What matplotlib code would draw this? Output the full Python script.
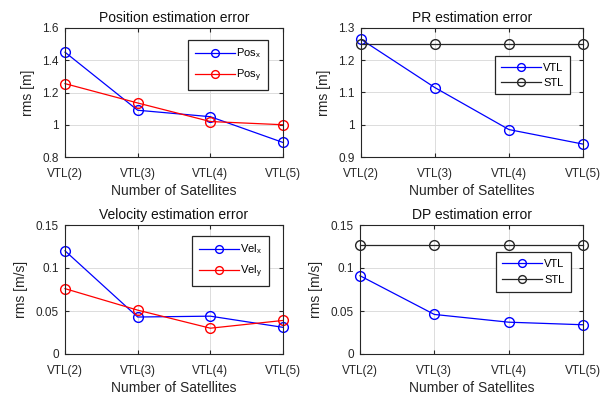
import numpy as np
import matplotlib.pyplot as plt

plt.rcParams['font.family'] = ['Liberation Sans', 'DejaVu Sans']

labels = ['VTL(2)', 'VTL(3)', 'VTL(4)', 'VTL(5)']
pos_x = [1.45, 1.09, 1.05, 0.89]
pos_y = [1.255, 1.135, 1.02, 1.0]
pr_vtl = [1.265, 1.115, 0.985, 0.94]
pr_stl = [1.25, 1.25, 1.25, 1.25]
vel_x = [0.12, 0.043, 0.044, 0.031]
vel_y = [0.076, 0.051, 0.030, 0.039]
dp_vtl = [0.091, 0.046, 0.037, 0.034]
dp_stl = [0.127, 0.127, 0.127, 0.127]

BLUE = '#0000ff'
RED = '#ff0000'
DARK = '#262626'

W, H = 603, 398
fig = plt.figure(figsize=(W / 100, H / 100), dpi=100)


def make_axes(l, r, t, b):
    return fig.add_axes([l / W, 1 - b / H, (r - l) / W, (b - t) / H])


def style(ax, title, ylabel, ylim, yticks, yticklabels):
    ax.set_xlim(0, 3)
    ax.set_xticks(range(4))
    ax.set_xticklabels(labels)
    ax.set_ylim(*ylim)
    ax.set_yticks(yticks)
    ax.set_yticklabels(yticklabels)
    ax.grid(True, color='#dcdcdc', linewidth=0.7)
    ax.set_axisbelow(True)
    ax.tick_params(direction='in', labelsize=8.5, colors=DARK, length=3,
                   top=True, right=True)
    for s in ax.spines.values():
        s.set_color(DARK)
        s.set_linewidth(0.8)
    ax.set_title(title, fontsize=10, color='#111111', pad=4)
    ax.set_ylabel(ylabel, fontsize=10, color=DARK, labelpad=5.5)
    ax.set_xlabel('Number of Satellites', fontsize=10, color=DARK, labelpad=3)
    ax.tick_params(axis='x', pad=8)
    ax.tick_params(axis='y', pad=4.5)


def legend(ax, right, top, spacing):
    leg = ax.legend(loc='upper right', bbox_to_anchor=(right / W, 1 - top / H),
                    bbox_transform=fig.transFigure, borderaxespad=0,
                    fontsize=8, frameon=True, fancybox=False, framealpha=1,
                    handlelength=3.6, labelspacing=spacing, markerscale=0.8,
                    handletextpad=0.15, borderpad=0.6)
    leg.get_frame().set_edgecolor(DARK)
    leg.get_frame().set_linewidth(0.9)


x = np.arange(4)
mk = dict(marker='o', markersize=7, markerfacecolor='none', linewidth=0.9,
          clip_on=False)

ax1 = make_axes(65, 283, 28, 157)
ax1.plot(x, pos_x, color=BLUE, label='Pos$_\\mathregular{x}$', **mk)
ax1.plot(x, pos_y, color=RED, label='Pos$_\\mathregular{y}$', **mk)
style(ax1, 'Position estimation error', 'rms [m]', (0.8, 1.6),
      [0.8, 1.0, 1.2, 1.4, 1.6], ['0.8', '1', '1.2', '1.4', '1.6'])
legend(ax1, 268, 40, 0.6)

ax2 = make_axes(361, 583, 28, 157)
ax2.plot(x, pr_vtl, color=BLUE, label='VTL', **mk)
ax2.plot(x, pr_stl, color=DARK, label='STL', **mk)
style(ax2, 'PR estimation error', 'rms [m]', (0.9, 1.3),
      [0.9, 1.0, 1.1, 1.2, 1.3], ['0.9', '1', '1.1', '1.2', '1.3'])
legend(ax2, 570, 56, 0.45)

ax3 = make_axes(65, 283, 225, 354)
ax3.plot(x, vel_x, color=BLUE, label='Vel$_\\mathregular{x}$', **mk)
ax3.plot(x, vel_y, color=RED, label='Vel$_\\mathregular{y}$', **mk)
style(ax3, 'Velocity estimation error', 'rms [m/s]', (0, 0.15),
      [0, 0.05, 0.1, 0.15], ['0', '0.05', '0.1', '0.15'])
legend(ax3, 269, 236, 0.6)

ax4 = make_axes(360, 583, 225, 354)
ax4.plot(x, dp_vtl, color=BLUE, label='VTL', **mk)
ax4.plot(x, dp_stl, color=DARK, label='STL', **mk)
style(ax4, 'DP estimation error', 'rms [m/s]', (0, 0.15),
      [0, 0.05, 0.1, 0.15], ['0', '0.05', '0.1', '0.15'])
legend(ax4, 571, 252, 0.6)

fig.savefig('out.png', dpi=100)
